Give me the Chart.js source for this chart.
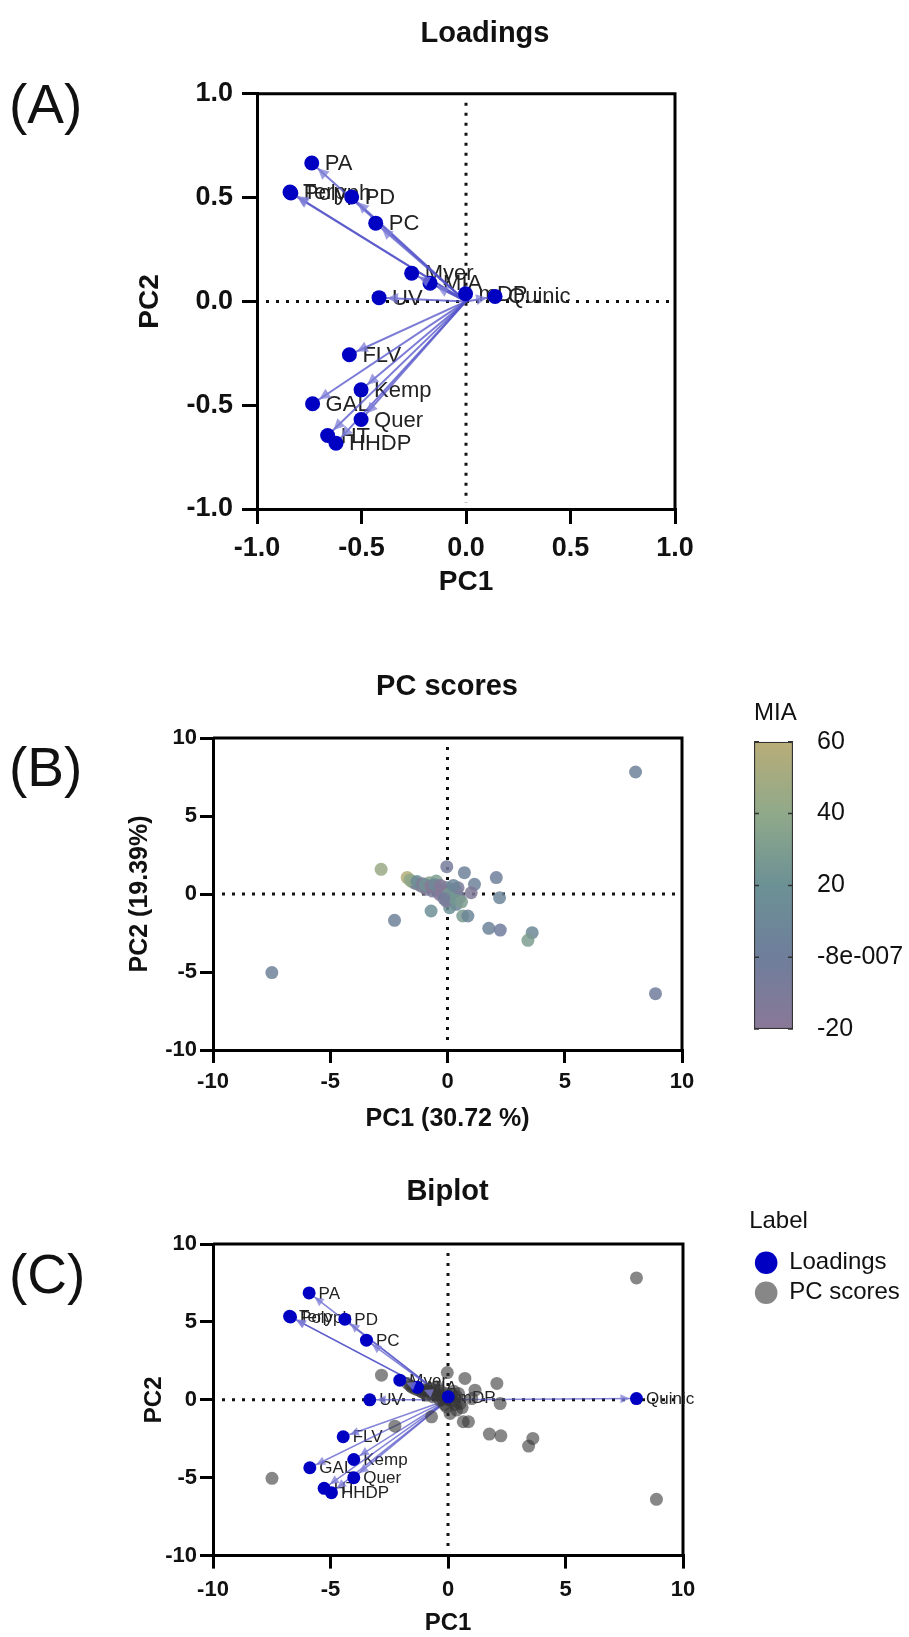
<!DOCTYPE html>
<html>
<head>
<meta charset="utf-8">
<script src="https://cdn.jsdelivr.net/npm/chart.js@4.4.0/dist/chart.umd.min.js"></script>
<style>
  html, body { margin: 0; padding: 0; background: #fff; }
  body { width: 909px; height: 1637px; position: relative; overflow: hidden; font-family: 'Liberation Sans', Arial, sans-serif; }
  canvas { position: absolute; }
  .panel { position: absolute; left: 9px; font-size: 55px; line-height: 1; color: #111; }
</style>
</head>
<body>
<div class="panel" style="top:77px">(A)</div>
<div class="panel" style="top:740px">(B)</div>
<div class="panel" style="top:1247px">(C)</div>
<canvas id="loadingsChart" width="848" height="599" style="left:61px;top:0"></canvas>
<canvas id="scoresChart" width="894" height="484" style="left:0;top:650px"></canvas>
<canvas id="miaBar" width="155" height="388" style="left:754px;top:680px"></canvas>
<canvas id="biplotChart" width="923" height="478" style="left:-14px;top:1160px"></canvas>
<script>
  'use strict';

  // ---- data ----
  const loadingNames = ['PA', 'Terp', 'Polyph', 'PD', 'PC', 'Myer', 'MIA', 'mDP', 'Quinic', 'UV', 'FLV', 'Kemp', 'GAL', 'Quer', 'HT', 'HHDP'];
  // panel A loadings
  const loadPC1 = [-0.738, -0.842, -0.838, -0.547, -0.432, -0.260, -0.172, -0.002, 0.139, -0.416, -0.558, -0.502, -0.734, -0.502, -0.662, -0.622];
  const loadPC2 = [0.667, 0.527, 0.522, 0.503, 0.377, 0.136, 0.088, 0.037, 0.024, 0.018, -0.257, -0.426, -0.493, -0.569, -0.646, -0.683];
  // panel C loadings (biplot scale)
  const biLoadPC1 = [-5.91, -6.74, -6.70, -4.39, -3.47, -2.05, -1.30, 0.01, 8.02, -3.33, -4.46, -4.01, -5.88, -4.01, -5.27, -4.96];
  const biLoadPC2 = [6.86, 5.36, 5.32, 5.17, 3.83, 1.26, 0.80, 0.19, 0.08, 0.00, -2.37, -3.83, -4.36, -5.00, -5.68, -5.96];

  // PC scores (panel B and C) with MIA colour value
  const scorePC1 = [8.02, -2.83, -0.03, 0.72, 2.08, -1.72, -1.55, -1.45, -1.34, -1.20, -1.12, -1.00, -0.91, -0.85, -0.77,
    -0.60, -0.48, -0.40, -0.34, -0.20, -0.63, -0.06, 0.16, 0.37, 0.51, 0.37, 0.09, -0.06, 1.15, 1.01, 0.20, -0.10,
    0.65, 0.87, 2.22, -0.70, -2.26, 1.76, 2.25, 3.61, 3.43, -7.49, 8.87,
    -1.60, -1.30, -1.05, -0.95, -0.70, -0.55, -0.30, -0.25, 0.05, 0.30, 0.45, 0.60, -0.15, 0.25];
  const scorePC2 = [7.82, 1.58, 1.75, 1.37, 1.05, 1.05, 0.83, 0.75, 0.66, 0.60, 0.51, 0.45, 0.30, 0.55, 0.72,
    0.40, 0.83, 0.30, -0.02, 0.20, 0.19, 0.41, 0.30, 0.19, -0.24, -0.66, -0.88, -0.45, 0.62, 0.08, -0.10, 0.10,
    -1.41, -1.41, -0.24, -1.09, -1.69, -2.20, -2.31, -2.48, -2.97, -5.04, -6.39,
    0.90, 0.80, 0.65, 0.60, 0.50, 0.60, 0.55, 0.05, 0.00, -0.30, 0.40, -0.50, -0.30, 0.55];
  const scoreMIA = [5, 45, -5, 3, 2, 58, 50, 35, -10, 25, -15, 30, -12, 20, 35,
    -18, 30, -5, -20, 10, -8, 15, 25, 28, -8, 5, 20, -10, 5, -12, 22, 0,
    28, 8, 8, 18, 4, 6, -2, 10, 30, 3, -3,
    40, 15, -15, 22, -20, 12, -16, -18, 26, 24, -10, 30, -6, 8];

  const loadTicks = [-1, -0.5, 0, 0.5, 1];
  const scoreTicks = [-10, -5, 0, 5, 10];
  const miaTicks = [-20, 0, 20, 40, 60];
  const miaColors = ['#8a7898', '#6e7e9b', '#6c9195', '#90a98a', '#b8ad78'];

  const FONT = "'Liberation Sans', Arial, sans-serif";
  Chart.defaults.font.family = FONT;
  Chart.defaults.color = '#111';

  function hexToRgb(h) {
    const n = parseInt(h.slice(1), 16);
    return [(n >> 16) & 255, (n >> 8) & 255, n & 255];
  }

  function miaColor(v, alpha) {
    let i = 0;
    while (i < miaTicks.length - 2 && v > miaTicks[i + 1]) i++;
    const t = Math.min(1, Math.max(0, (v - miaTicks[i]) / (miaTicks[i + 1] - miaTicks[i])));
    const a = hexToRgb(miaColors[i]);
    const b = hexToRgb(miaColors[i + 1]);
    const c = a.map((x, k) => Math.round(x + (b[k] - x) * t));
    return `rgba(${c[0]},${c[1]},${c[2]},${alpha})`;
  }

  // dotted zero lines + top/right frame
  const frameLines = {
    id: 'frameLines',
    beforeDatasetsDraw(chart) {
      const { ctx, chartArea: a, scales: { x, y } } = chart;
      const x0 = x.getPixelForValue(0);
      const y0 = y.getPixelForValue(0);
      ctx.save();
      ctx.strokeStyle = '#111';
      ctx.lineWidth = 3;
      ctx.setLineDash([3, 7]);
      ctx.beginPath();
      ctx.moveTo(a.left + 9, y0); ctx.lineTo(a.right - 6, y0);
      ctx.moveTo(x0, a.top + 9); ctx.lineTo(x0, a.bottom - 6);
      ctx.stroke();
      ctx.setLineDash([]);
      ctx.strokeStyle = '#000';
      ctx.beginPath();
      ctx.moveTo(a.left, a.top); ctx.lineTo(a.right, a.top); ctx.lineTo(a.right, a.bottom);
      ctx.stroke();
      ctx.restore();
    }
  };

  // loading names (under the marks) and arrow heads
  const loadingMarks = {
    id: 'loadingMarks',
    beforeDatasetsDraw(chart, args, opts) {
      const { ctx } = chart;
      const idx = chart.data.datasets.findIndex(d => d.names);
      const ds = chart.data.datasets[idx];
      const pts = chart.getDatasetMeta(idx).data;
      ctx.save();
      ctx.font = opts.font;
      ctx.fillStyle = '#222';
      ctx.textBaseline = 'middle';
      pts.forEach((p, i) => ctx.fillText(ds.names[i], p.x + opts.gap, p.y + 1));
      ctx.restore();
    },
    afterDatasetsDraw(chart, args, opts) {
      const { ctx } = chart;
      ctx.save();
      ctx.fillStyle = opts.fill;
      chart.data.datasets.forEach((d, i) => {
        if (!d.arrow) return;
        const [p0, p1] = chart.getDatasetMeta(i).data;
        const dx = p1.x - p0.x, dy = p1.y - p0.y;
        const len = Math.hypot(dx, dy);
        if (len < opts.back + opts.head) return;
        const ux = dx / len, uy = dy / len;
        const tx = p1.x - ux * opts.back, ty = p1.y - uy * opts.back;
        const bx = tx - ux * opts.head, by = ty - uy * opts.head;
        ctx.beginPath();
        ctx.moveTo(tx, ty);
        ctx.lineTo(bx - uy * opts.half, by + ux * opts.half);
        ctx.lineTo(bx + uy * opts.half, by - ux * opts.half);
        ctx.closePath();
        ctx.fill();
      });
      ctx.restore();
    }
  };

  function arrowSets(xs, ys, color, width) {
    return xs.map((x, i) => ({
      arrow: true,
      data: [{ x: 0, y: 0 }, { x: x, y: ys[i] }],
      showLine: true,
      borderColor: color,
      borderWidth: width,
      pointRadius: 0,
      pointHoverRadius: 0
    }));
  }

  function axis(o) {
    return {
      type: 'linear',
      position: o.position,
      min: o.ticks[0],
      max: o.ticks[o.ticks.length - 1],
      afterBuildTicks: s => { s.ticks = o.ticks.map(v => ({ value: v })); },
      afterFit: s => { if (o.position === 'bottom') s.height = o.size; else s.width = o.size; },
      grid: { display: true, drawOnChartArea: false, drawTicks: true, tickLength: o.tickLength, color: '#000', lineWidth: 3 },
      border: { display: true, color: '#000', width: 3 },
      ticks: {
        autoSkip: false, maxRotation: 0, padding: o.pad, color: '#111',
        font: { size: o.tickSize, weight: 'bold' },
        callback: o.fmt
      },
      title: { display: true, text: o.title, color: '#111', padding: { top: o.titlePad || 0, bottom: 0 }, font: { size: o.titleSize, weight: 'bold' } }
    };
  }

  // empty axis on the right that only reserves room
  function spacer(width) {
    return {
      type: 'linear',
      position: 'right',
      display: true,
      afterFit: s => { s.width = typeof width === 'function' ? width(s) : width; },
      grid: { display: false, drawTicks: false },
      border: { display: false },
      ticks: { display: false }
    };
  }

  const noHover = { legend: { display: false }, tooltip: { enabled: false } };

  // ---- (A) Loadings ----
  new Chart(document.getElementById('loadingsChart'), {
    type: 'scatter',
    data: {
      datasets: [
        {
          label: 'Loadings',
          names: loadingNames,
          data: loadingNames.map((n, i) => ({ x: loadPC1[i], y: loadPC2[i] })),
          pointRadius: 7.5,
          pointBackgroundColor: '#0000c2',
          pointBorderWidth: 0
        },
        ...arrowSets(loadPC1, loadPC2, 'rgba(80,80,200,0.75)', 2)
      ]
    },
    options: {
      responsive: false,
      animation: false,
      events: [],
      layout: { padding: 0 },
      plugins: {
        ...noHover,
        title: { display: true, text: 'Loadings', color: '#111', font: { size: 29, weight: 'bold' }, padding: { top: 17, bottom: 42 } },
        loadingMarks: { font: '22px ' + FONT, gap: 13, back: 8, head: 11, half: 5.5, fill: 'rgba(125,125,215,0.75)' }
      },
      scales: {
        x: axis({ position: 'bottom', ticks: loadTicks, size: 90, tickLength: 15, pad: 8, tickSize: 27, titleSize: 28, title: 'PC1', fmt: v => v.toFixed(1) }),
        y: axis({ position: 'left', ticks: loadTicks, size: 196, tickLength: 15, pad: 9, tickSize: 27, titleSize: 28, titlePad: 72, title: 'PC2', fmt: v => v.toFixed(1) }),
        y2: spacer(234)
      }
    },
    plugins: [frameLines, loadingMarks]
  });

  // ---- (B) PC scores ----
  new Chart(document.getElementById('scoresChart'), {
    type: 'scatter',
    data: {
      datasets: [{
        label: 'PC scores',
        data: scorePC1.map((x, i) => ({ x: x, y: scorePC2[i] })),
        pointRadius: 6.5,
        pointBackgroundColor: scoreMIA.map(v => miaColor(v, 0.85)),
        pointBorderWidth: 0
      }]
    },
    options: {
      responsive: false,
      animation: false,
      events: [],
      layout: { padding: 0 },
      plugins: {
        ...noHover,
        title: { display: true, text: 'PC scores', color: '#111', font: { size: 29, weight: 'bold' }, padding: { top: 19.6, bottom: 33.6 } }
      },
      scales: {
        x: axis({ position: 'bottom', ticks: scoreTicks, size: 84, tickLength: 13, pad: 6, tickSize: 22, titleSize: 25, title: 'PC1 (30.72 %)', fmt: v => String(v) }),
        y: axis({ position: 'left', ticks: scoreTicks, size: 213, tickLength: 13, pad: 3, tickSize: 22, titleSize: 25, titlePad: 125, title: 'PC2 (19.39%)', fmt: v => String(v) }),
        y2: spacer(212)
      }
    },
    plugins: [frameLines]
  });

  // ---- MIA colour scale ----
  const miaMarks = {
    id: 'miaMarks',
    afterDatasetsDraw(chart) {
      const { ctx, chartArea: a, scales: { y } } = chart;
      ctx.save();
      ctx.strokeStyle = '#333';
      ctx.lineWidth = 1.5;
      ctx.beginPath();
      miaTicks.forEach(v => {
        const py = y.getPixelForValue(v);
        ctx.moveTo(a.left, py); ctx.lineTo(a.left + 5, py);
        ctx.moveTo(a.right - 5, py); ctx.lineTo(a.right, py);
      });
      ctx.stroke();
      ctx.restore();
    }
  };

  new Chart(document.getElementById('miaBar'), {
    type: 'bar',
    data: {
      labels: ['MIA'],
      datasets: [{
        data: [[miaTicks[0], miaTicks[miaTicks.length - 1]]],
        backgroundColor: c => {
          const chart = c.chart;
          if (!chart.chartArea) return miaColors[0];
          const ys = chart.scales.y;
          const lo = miaTicks[0], hi = miaTicks[miaTicks.length - 1];
          const g = chart.ctx.createLinearGradient(0, ys.getPixelForValue(lo), 0, ys.getPixelForValue(hi));
          miaTicks.forEach((v, i) => g.addColorStop((v - lo) / (hi - lo), miaColors[i]));
          return g;
        },
        borderColor: '#333',
        borderWidth: 1.5,
        borderSkipped: false,
        barPercentage: 1,
        categoryPercentage: 1
      }]
    },
    options: {
      responsive: false,
      animation: false,
      events: [],
      layout: { padding: 0 },
      plugins: {
        ...noHover,
        title: { display: true, text: 'MIA', align: 'start', color: '#111', font: { size: 24, weight: 'normal' }, padding: { top: 19, bottom: 14 } }
      },
      scales: {
        x: { display: false },
        y: {
          position: 'right',
          min: miaTicks[0],
          max: miaTicks[miaTicks.length - 1],
          afterBuildTicks: s => { s.ticks = miaTicks.map(v => ({ value: v })); },
          afterFit: s => { s.width = 116; },
          grid: { display: false, drawTicks: false },
          border: { display: false },
          ticks: { padding: 24, color: '#111', font: { size: 25 }, callback: v => (v === 0 ? '-8e-007' : String(v)) }
        }
      }
    },
    plugins: [miaMarks]
  });

  // ---- (C) Biplot ----
  const biPad = 9;
  new Chart(document.getElementById('biplotChart'), {
    type: 'scatter',
    data: {
      datasets: [
        {
          label: 'Loadings',
          names: loadingNames,
          data: loadingNames.map((n, i) => ({ x: biLoadPC1[i], y: biLoadPC2[i] })),
          pointRadius: 6.5,
          pointBackgroundColor: '#0000c2',
          backgroundColor: '#0000c2',
          pointBorderWidth: 0
        },
        {
          label: 'PC scores',
          data: scorePC1.map((x, i) => ({ x: x, y: scorePC2[i] })),
          pointRadius: 6.5,
          pointBackgroundColor: 'rgba(55,55,55,0.6)',
          backgroundColor: 'rgba(55,55,55,0.6)',
          pointBorderWidth: 0
        },
        ...arrowSets(biLoadPC1, biLoadPC2, 'rgba(80,80,200,0.7)', 1.5)
      ]
    },
    options: {
      responsive: false,
      animation: false,
      events: [],
      layout: { padding: { left: biPad, right: biPad, top: 0, bottom: 0 } },
      plugins: {
        tooltip: { enabled: false },
        title: { display: true, text: 'Biplot', color: '#111', font: { size: 29, weight: 'bold' }, padding: { top: 14.6, bottom: 34.6 } },
        legend: {
          display: true,
          position: 'right',
          align: 'start',
          title: { display: true, text: 'Label', position: 'start', color: '#111', font: { size: 24 }, padding: { top: 49, bottom: 7 } },
          labels: {
            usePointStyle: true,
            pointStyle: 'circle',
            boxWidth: 22,
            boxHeight: 16,
            padding: 6,
            color: '#111',
            font: { size: 24 },
            filter: (item, data) => !data.datasets[item.datasetIndex].arrow
          }
        },
        loadingMarks: { font: '17px ' + FONT, gap: 9.5, back: 7, head: 9, half: 4.5, fill: 'rgba(125,125,215,0.75)' }
      },
      scales: {
        x: axis({ position: 'bottom', ticks: scoreTicks, size: 82.4, tickLength: 13, pad: 8, tickSize: 22, titleSize: 24, title: 'PC1', fmt: v => String(v) }),
        y: axis({ position: 'left', ticks: scoreTicks, size: 227 - biPad, tickLength: 13, pad: 3, tickSize: 22, titleSize: 24, titlePad: 153.6 - biPad, title: 'PC2', fmt: v => String(v) }),
        y2: spacer(s => {
          const lg = s.chart.legend;
          return Math.max(0, s.chart.width - biPad - (lg ? lg.width : 0) - 697);
        })
      }
    },
    plugins: [frameLines, loadingMarks]
  });
</script>
</body>
</html>
